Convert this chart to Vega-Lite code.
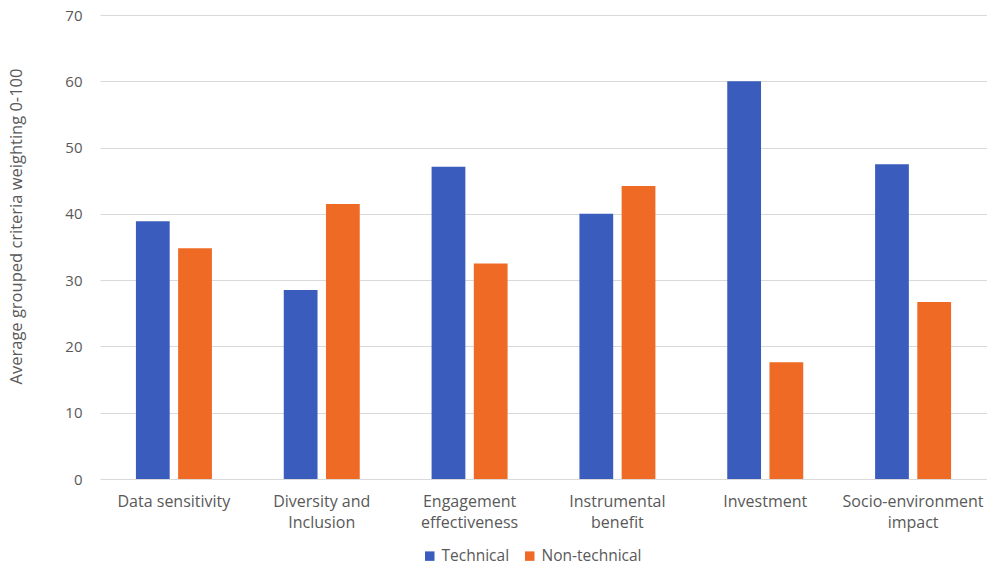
{
  "$schema": "https://vega.github.io/schema/vega-lite/v6.json",
  "width": 887,
  "height": 464,
  "autosize": {"type": "none"},
  "padding": {"left": 100, "top": 15, "right": 0, "bottom": 88},
  "background": "white",
  "config": {
    "view": {"stroke": null},
    "font": "Open Sans",
    "axis": {"labelColor": "#595959", "titleColor": "#595959", "labelFont": "Open Sans", "titleFont": "Open Sans"}
  },
  "data": {
    "values": [
      {"criteria": "Data sensitivity", "group": "Technical", "value": 38.9},
      {"criteria": "Data sensitivity", "group": "Non-technical", "value": 34.8},
      {"criteria": "Diversity and Inclusion", "group": "Technical", "value": 28.5},
      {"criteria": "Diversity and Inclusion", "group": "Non-technical", "value": 41.5},
      {"criteria": "Engagement effectiveness", "group": "Technical", "value": 47.1},
      {"criteria": "Engagement effectiveness", "group": "Non-technical", "value": 32.5},
      {"criteria": "Instrumental benefit", "group": "Technical", "value": 40.0},
      {"criteria": "Instrumental benefit", "group": "Non-technical", "value": 44.2},
      {"criteria": "Investment", "group": "Technical", "value": 60.0},
      {"criteria": "Investment", "group": "Non-technical", "value": 17.6},
      {"criteria": "Socio-environment impact", "group": "Technical", "value": 47.5},
      {"criteria": "Socio-environment impact", "group": "Non-technical", "value": 26.7}
    ]
  },
  "mark": {"type": "bar"},
  "encoding": {
    "x": {
      "field": "criteria",
      "type": "nominal",
      "sort": null,
      "scale": {"paddingInner": 0.486, "paddingOuter": 0.243},
      "axis": {
        "title": null,
        "labelAngle": 0,
        "labelFontSize": 16,
        "labelPadding": 14,
        "labelLineHeight": 21,
        "ticks": false,
        "domain": false,
        "labelExpr": "datum.label == 'Diversity and Inclusion' ? ['Diversity and', 'Inclusion'] : datum.label == 'Engagement effectiveness' ? ['Engagement', 'effectiveness'] : datum.label == 'Instrumental benefit' ? ['Instrumental', 'benefit'] : datum.label == 'Socio-environment impact' ? ['Socio-environment', 'impact'] : datum.label"
      }
    },
    "xOffset": {
      "field": "group",
      "type": "nominal",
      "sort": ["Technical", "Non-technical"],
      "scale": {"paddingInner": 0.2, "paddingOuter": 0}
    },
    "y": {
      "field": "value",
      "type": "quantitative",
      "scale": {"domain": [0, 70]},
      "axis": {
        "title": "Average grouped criteria weighting 0-100",
        "titleFontSize": 16.5,
        "titleFontWeight": "normal",
        "titlePadding": 40,
        "titleY": 211,
        "labelFontSize": 15,
        "labelPadding": 18,
        "values": [0, 10, 20, 30, 40, 50, 60, 70],
        "ticks": false,
        "domain": false,
        "gridColor": "#d9d9d9",
        "gridWidth": 1
      }
    },
    "color": {
      "field": "group",
      "type": "nominal",
      "sort": ["Technical", "Non-technical"],
      "scale": {"domain": ["Technical", "Non-technical"], "range": ["#3a5dbd", "#ee6a25"]},
      "legend": {
        "title": null,
        "orient": "none",
        "direction": "horizontal",
        "legendX": 322,
        "legendY": 533,
        "symbolType": "square",
        "symbolSize": 90,
        "symbolStrokeWidth": 0,
        "labelFontSize": 15.5,
        "labelColor": "#595959",
        "columnPadding": 12,
        "labelOffset": 4
      }
    }
  }
}
